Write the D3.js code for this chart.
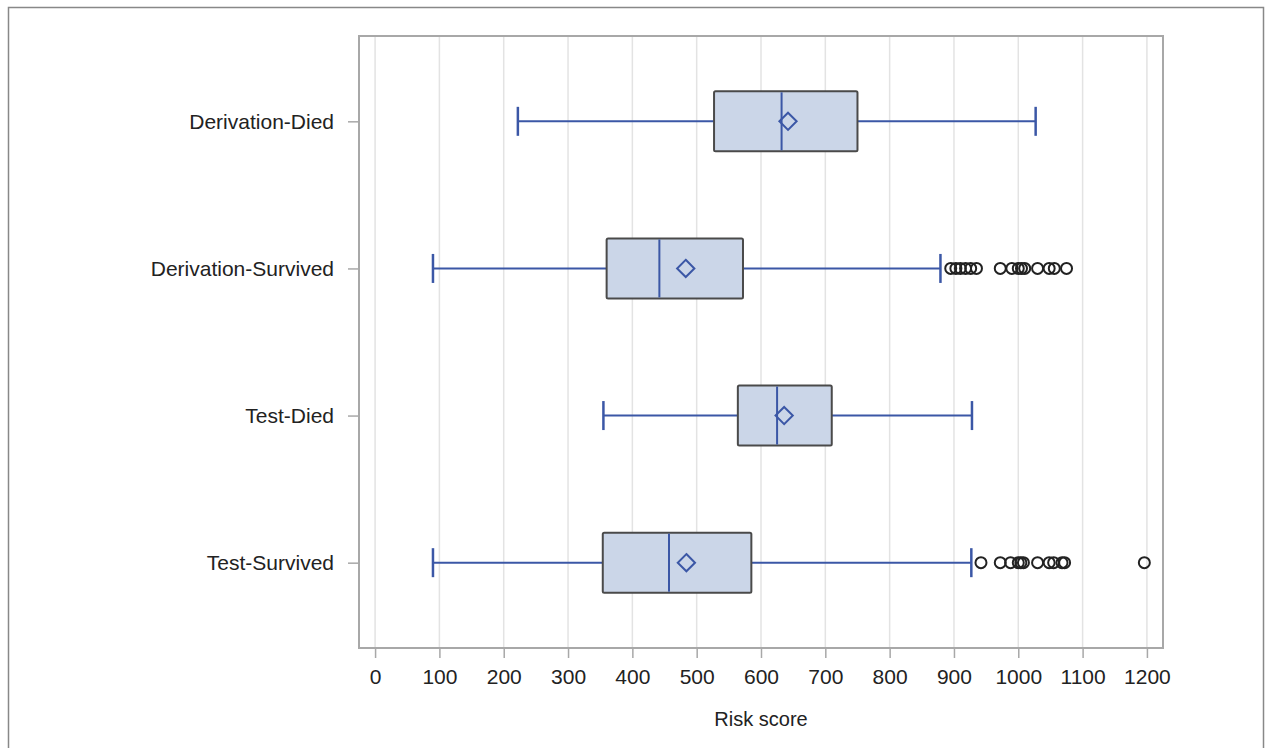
<!DOCTYPE html>
<html>
<head>
<meta charset="utf-8">
<script src="https://cdnjs.cloudflare.com/ajax/libs/d3/7.8.5/d3.min.js"></script>
<style>
  body { margin: 0; background: #fff; }
  text { font-family: Arial, "Liberation Sans", sans-serif; fill: #222; }
</style>
</head>
<body>
<svg width="1267" height="748"></svg>
<script>
var groups = ["Derivation-Died", "Derivation-Survived", "Test-Died", "Test-Survived"];
var whiskerLow  = [222, 90, 355, 90];
var q1          = [527, 360, 564, 354];
var median      = [632, 442, 625, 457];
var mean        = [642, 483, 636, 484];
var q3          = [750, 572, 710, 585];
var whiskerHigh = [1027, 879, 928, 927];
var outliers = [
  [],
  [895, 903, 910, 918, 926, 935, 972, 990, 1000, 1005, 1010, 1030, 1048, 1056, 1075],
  [],
  [942, 972, 988, 1000, 1004, 1008, 1030, 1048, 1055, 1068, 1072, 1196]
];
var xTicks = [0, 100, 200, 300, 400, 500, 600, 700, 800, 900, 1000, 1100, 1200];

var svg = d3.select("svg"),
    margin = {top: 36, right: 104, bottom: 100, left: 359},
    width = +svg.attr("width") - margin.left - margin.right,
    height = +svg.attr("height") - margin.top - margin.bottom;

// outer figure border
svg.append("rect")
    .attr("x", 8.5).attr("y", 7.5)
    .attr("width", 1255).attr("height", 760)
    .attr("fill", "none")
    .attr("stroke", "#888")
    .attr("stroke-width", 1.5);

var x = d3.scaleLinear().domain([-25, 1225]).range([0, width]);
var y = d3.scalePoint().domain(groups).range([0, height]).padding(0.58);
var boxH = 60, capH = 29;

var g = svg.append("g")
    .attr("transform", "translate(" + margin.left + "," + margin.top + ")");

// grid
g.selectAll(".grid")
    .data(xTicks)
    .enter().append("line")
      .attr("x1", function(d) { return x(d); })
      .attr("x2", function(d) { return x(d); })
      .attr("y1", 0).attr("y2", height)
      .attr("stroke", "#e3e3e3")
      .attr("stroke-width", 1.5);

var rows = groups.map(function(name, i) {
  return {name: name, lo: whiskerLow[i], q1: q1[i], med: median[i], mean: mean[i],
          q3: q3[i], hi: whiskerHigh[i], out: outliers[i]};
});

var box = g.selectAll(".box")
    .data(rows)
    .enter().append("g")
      .attr("class", "box")
      .attr("transform", function(d) { return "translate(0," + y(d.name) + ")"; });

var blue = "#3b57a6";

box.append("line")
    .attr("x1", function(d) { return x(d.lo); })
    .attr("x2", function(d) { return x(d.q1); })
    .attr("stroke", blue).attr("stroke-width", 2);
box.append("line")
    .attr("x1", function(d) { return x(d.q3); })
    .attr("x2", function(d) { return x(d.hi); })
    .attr("stroke", blue).attr("stroke-width", 2);
box.append("line")
    .attr("x1", function(d) { return x(d.lo); })
    .attr("x2", function(d) { return x(d.lo); })
    .attr("y1", -capH / 2).attr("y2", capH / 2)
    .attr("stroke", blue).attr("stroke-width", 2.5);
box.append("line")
    .attr("x1", function(d) { return x(d.hi); })
    .attr("x2", function(d) { return x(d.hi); })
    .attr("y1", -capH / 2).attr("y2", capH / 2)
    .attr("stroke", blue).attr("stroke-width", 2.5);

box.append("rect")
    .attr("x", function(d) { return x(d.q1); })
    .attr("y", -boxH / 2)
    .attr("width", function(d) { return x(d.q3) - x(d.q1); })
    .attr("height", boxH)
    .attr("fill", "#cbd6e8")
    .attr("stroke", "#4a4a4a")
    .attr("stroke-width", 2)
    .attr("rx", 1.5);

box.append("line")
    .attr("x1", function(d) { return x(d.med); })
    .attr("x2", function(d) { return x(d.med); })
    .attr("y1", -boxH / 2 + 1).attr("y2", boxH / 2 - 1)
    .attr("stroke", blue).attr("stroke-width", 2);

box.append("path")
    .attr("d", d3.symbol().type(d3.symbolDiamond2).size(190))
    .attr("transform", function(d) { return "translate(" + x(d.mean) + ",0)"; })
    .attr("fill", "none")
    .attr("stroke", blue)
    .attr("stroke-width", 2);

box.selectAll(".outlier")
    .data(function(d) { return d.out; })
    .enter().append("circle")
      .attr("class", "outlier")
      .attr("cx", function(d) { return x(d); })
      .attr("r", 5.5)
      .attr("fill", "none")
      .attr("stroke", "#222")
      .attr("stroke-width", 2);

// plot frame
g.append("rect")
    .attr("width", width).attr("height", height)
    .attr("fill", "none")
    .attr("stroke", "#a8a8a8")
    .attr("stroke-width", 2);

// x axis
var xAxis = g.append("g")
    .attr("transform", "translate(0," + height + ")")
    .call(d3.axisBottom(x).tickValues(xTicks).tickFormat(d3.format("d")).tickSize(10).tickPadding(11));
xAxis.select(".domain").remove();
xAxis.selectAll("line").attr("stroke", "#a8a8a8").attr("stroke-width", 1.5);
xAxis.selectAll("text")
    .style("font-size", "21px")
    .style("font-family", "Arial, 'Liberation Sans', sans-serif")
    .attr("fill", "#222");

// y axis
var yAxis = g.append("g")
    .call(d3.axisLeft(y).tickSize(11).tickPadding(14));
yAxis.select(".domain").remove();
yAxis.selectAll("line").attr("stroke", "#a8a8a8").attr("stroke-width", 1.5);
yAxis.selectAll("text")
    .style("font-size", "21px")
    .style("font-family", "Arial, 'Liberation Sans', sans-serif")
    .attr("fill", "#222");

svg.append("text")
    .attr("x", margin.left + x(600))
    .attr("y", 726)
    .style("text-anchor", "middle")
    .style("font-size", "20px")
    .text("Risk score");
</script>
</body>
</html>
